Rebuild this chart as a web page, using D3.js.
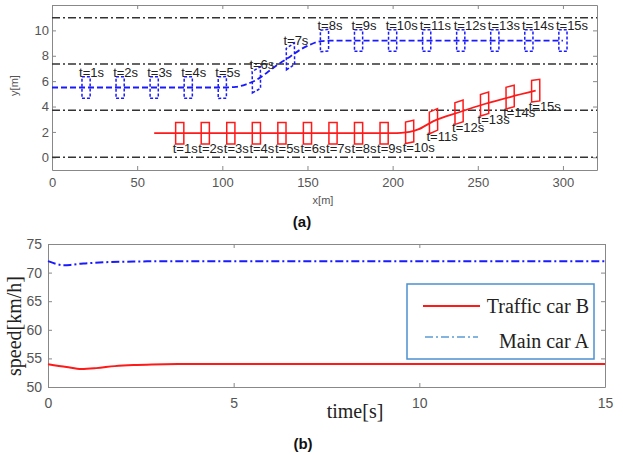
<!DOCTYPE html>
<html>
<head>
<meta charset="utf-8">
<script src="https://cdn.jsdelivr.net/npm/d3@7"></script>
<style>
  body { margin: 0; background: #fff; }
  svg { display: block; }
  .tick text { font-family: "Liberation Sans", Arial, sans-serif; fill: #555; }
</style>
</head>
<body>
<svg width="623" height="455"></svg>
<script>
// ---- data: top plot (trajectories) ----
var laneY = [0, 3.7, 7.35, 11];
var carT = [1, 2, 3, 4, 5, 6, 7, 8, 9, 10, 11, 12, 13, 14, 15];
var blueCarX = [20, 40, 60, 80, 100, 120, 140, 160, 180, 200, 220, 240, 260, 280, 300];
var blueCarY = [5.5, 5.5, 5.5, 5.5, 5.5, 6.1, 7.95, 9.2, 9.2, 9.2, 9.2, 9.2, 9.2, 9.2, 9.2];
var redCarX = [75, 90, 105, 120, 135, 150, 165, 180, 195, 210, 224, 239, 254, 269, 284];
var redCarY = [1.9, 1.9, 1.9, 1.9, 1.9, 1.9, 1.9, 1.9, 1.9, 2.0, 2.85, 3.55, 4.2, 4.75, 5.25];
var bluePathX = [0, 100, 108, 114, 120, 126, 132, 140, 146, 152, 158, 166, 300];
var bluePathY = [5.5, 5.5, 5.55, 5.75, 6.1, 6.65, 7.25, 7.95, 8.5, 8.9, 9.15, 9.2, 9.2];
var redPathX = [60, 200, 205, 210, 215, 224, 239, 254, 269, 284];
var redPathY = [1.9, 1.9, 1.92, 2.0, 2.2, 2.85, 3.55, 4.2, 4.75, 5.25];
var trajXTicks = [0, 50, 100, 150, 200, 250, 300];
var trajYTicks = [0, 2, 4, 6, 8, 10];

// ---- data: bottom plot (speed) ----
var mainT = [0, 0.2, 0.4, 0.6, 0.8, 1, 1.5, 2, 2.5, 3, 4, 15];
var mainV = [72, 71.55, 71.3, 71.35, 71.5, 71.6, 71.8, 71.9, 71.95, 72, 72, 72];
var trafT = [0, 0.5, 0.9, 1.3, 1.8, 2.3, 2.8, 3.5, 15];
var trafV = [54, 53.5, 53.15, 53.3, 53.65, 53.85, 53.95, 54, 54];
var speedXTicks = [0, 5, 10, 15];
var speedYTicks = [50, 55, 60, 65, 70, 75];
var legendNames = ["Traffic car B", "Main car A"];

var carLen = 4.8, carWid = 1.7;
var axisClr = "#888", blue = "#1a1aff", red = "#ff1a1a";

var svg = d3.select("svg");

/***************************** top plot *****************************/
var g1 = svg.append("g").attr("transform", "translate(52,5)");
var w1 = 545, h1 = 165;
var x1 = d3.scaleLinear().domain([0, 320]).range([0, w1]);
var y1 = d3.scaleLinear().domain([-1, 12]).range([h1, 0]);

function frame(g, x, y, w, h, xt, yt, pad){
  g.append("g").attr("transform", "translate(0," + h + ")")
    .call(d3.axisBottom(x).tickValues(xt).tickSize(-4).tickSizeOuter(0).tickPadding(pad));
  g.append("g").call(d3.axisLeft(y).tickValues(yt).tickSize(-4).tickSizeOuter(0).tickPadding(pad == 8 ? 3 : 6));
  g.append("g").call(d3.axisTop(x).tickValues(xt).tickSize(-4).tickSizeOuter(0).tickFormat(""));
  g.append("g").attr("transform", "translate(" + w + ",0)")
    .call(d3.axisRight(y).tickValues(yt).tickSize(-4).tickSizeOuter(0).tickFormat(""));
  g.selectAll(".domain, .tick line").attr("stroke", axisClr);
}
frame(g1, x1, y1, w1, h1, trajXTicks, trajYTicks, 8);
g1.selectAll(".tick text").style("font-size", "13px");

// lane lines
g1.selectAll(".lane").data(laneY).enter().append("line")
  .attr("x1", 0).attr("x2", w1)
  .attr("y1", d => y1(d)).attr("y2", d => y1(d))
  .attr("stroke", "#333").attr("stroke-width", 1.5).attr("stroke-dasharray", "8,3,2,3");

var line1 = d3.line().x(d => x1(d[0])).y(d => y1(d[1])).curve(d3.curveMonotoneX);
g1.append("path").datum(bluePathX.map((d, i) => [d, bluePathY[i]]))
  .attr("d", line1).attr("fill", "none").attr("stroke", blue).attr("stroke-width", 1.8)
  .attr("stroke-dasharray", "6,3");
g1.append("path").datum(redPathX.map((d, i) => [d, redPathY[i]]))
  .attr("d", line1).attr("fill", "none").attr("stroke", red).attr("stroke-width", 1.8);

function interp(px, py, x){
  if(x <= px[0]) return py[0];
  for(var i = 1; i < px.length; i++){
    if(x <= px[i]) return py[i-1] + (py[i]-py[i-1])*(x-px[i-1])/(px[i]-px[i-1]);
  }
  return py[py.length-1];
}

function carPoly(cx, cy, px, py){
  var th = Math.atan((interp(px, py, cx+4) - interp(px, py, cx-4)) / 8);
  var c = Math.cos(th), s = Math.sin(th);
  return [[-1,-1],[1,-1],[1,1],[-1,1]].map(p => {
    var dx = p[0]*carLen/2, dy = p[1]*carWid/2;
    return [x1(cx + dx*c - dy*s), y1(cy + dx*s + dy*c)];
  });
}

function drawCars(cx, cy, px, py, clr, dash, labelDy){
  cx.forEach((d, i) => {
    g1.append("polygon")
      .attr("points", carPoly(d, cy[i], px, py).map(p => p.join(",")).join(" "))
      .attr("fill", "none").attr("stroke", clr).attr("stroke-width", 1.5)
      .attr("stroke-dasharray", dash);
    g1.append("text")
      .attr("x", x1(d) - 7).attr("y", y1(cy[i]) + labelDy)
      .style("font-family", "Liberation Sans, Arial, sans-serif").style("font-size", "13px")
      .attr("fill", "#222")
      .text("t=" + carT[i] + "s");
  });
}
drawCars(blueCarX, blueCarY, bluePathX, bluePathY, blue, "3,2", -11);
drawCars(redCarX, redCarY, redPathX, redPathY, red, null, 20);

g1.append("text").attr("transform", "translate(-34," + (h1/2 - 2) + ") rotate(-90)")
  .attr("text-anchor", "middle").style("font-family", "Liberation Sans, Arial, sans-serif")
  .style("font-size", "11px").attr("fill", "#555").text("y[m]");
g1.append("text").attr("x", 271).attr("y", 199).attr("text-anchor", "middle")
  .style("font-family", "Liberation Sans, Arial, sans-serif")
  .style("font-size", "11px").attr("fill", "#555").text("x[m]");

svg.append("text").attr("x", 302).attr("y", 227).attr("text-anchor", "middle")
  .style("font-family", "Liberation Sans, Arial, sans-serif").style("font-weight", "bold")
  .style("font-size", "15px").attr("fill", "#111").text("(a)");

/***************************** bottom plot *****************************/
var g2 = svg.append("g").attr("transform", "translate(48,244)");
var w2 = 557, h2 = 143;
var x2 = d3.scaleLinear().domain([0, 15]).range([0, w2]);
var y2 = d3.scaleLinear().domain([50, 75]).range([h2, 0]);
frame(g2, x2, y2, w2, h2, speedXTicks, speedYTicks, 11);
g2.selectAll(".tick text").style("font-size", "14px");

var line2 = d3.line().x(d => x2(d[0])).y(d => y2(d[1])).curve(d3.curveMonotoneX);
g2.append("path").datum(mainT.map((d, i) => [d, mainV[i]]))
  .attr("d", line2).attr("fill", "none").attr("stroke", blue).attr("stroke-width", 2)
  .attr("stroke-dasharray", "8,3,2,3");
g2.append("path").datum(trafT.map((d, i) => [d, trafV[i]]))
  .attr("d", line2).attr("fill", "none").attr("stroke", red).attr("stroke-width", 2);

// legend
var lg = svg.append("g");
lg.append("rect").attr("x", 407).attr("y", 284).attr("width", 187).attr("height", 75)
  .attr("fill", "#fff").attr("stroke", "#4a90d0").attr("stroke-width", 1.5);
lg.append("line").attr("x1", 423).attr("x2", 480).attr("y1", 306).attr("y2", 306)
  .attr("stroke", red).attr("stroke-width", 2);
lg.append("line").attr("x1", 425).attr("x2", 478).attr("y1", 337).attr("y2", 337)
  .attr("stroke", "#5b9bd5").attr("stroke-width", 1.5).attr("stroke-dasharray", "8,3,2,3");
lg.selectAll(".lt").data(legendNames).enter().append("text")
  .attr("x", 589).attr("y", (d, i) => i ? 348 : 313).attr("text-anchor", "end")
  .style("font-family", "Liberation Serif, Times New Roman, serif").style("font-size", "20px")
  .attr("fill", "#222").text(d => d);

svg.append("text").attr("transform", "translate(21,326) rotate(-90)")
  .attr("text-anchor", "middle").style("font-family", "Liberation Serif, Times New Roman, serif")
  .style("font-size", "20px").attr("fill", "#222").text("speed[km/h]");
svg.append("text").attr("x", 355).attr("y", 418).attr("text-anchor", "middle")
  .style("font-family", "Liberation Serif, Times New Roman, serif")
  .style("font-size", "20px").attr("fill", "#222").text("time[s]");

svg.append("text").attr("x", 303).attr("y", 449).attr("text-anchor", "middle")
  .style("font-family", "Liberation Sans, Arial, sans-serif").style("font-weight", "bold")
  .style("font-size", "15px").attr("fill", "#111").text("(b)");
</script>
</body>
</html>
